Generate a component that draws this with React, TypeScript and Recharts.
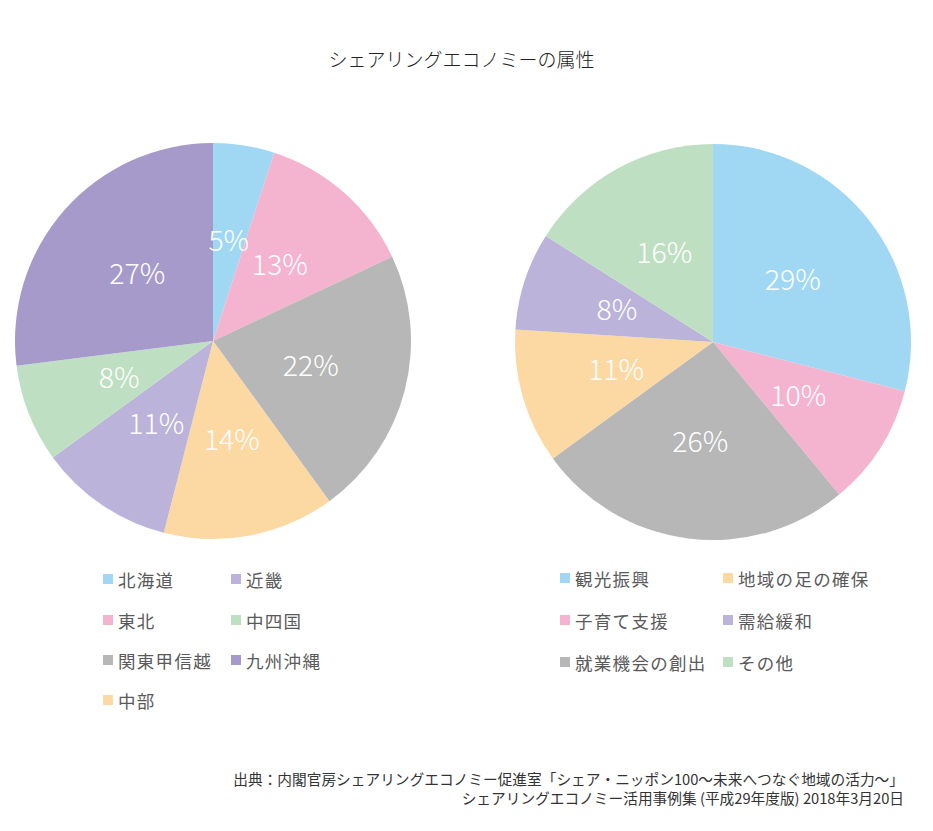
import React from "react";
import { PieChart, Pie, Cell } from "recharts";

const regionNames = ["北海道", "東北", "関東甲信越", "中部", "近畿", "中四国", "九州沖縄"];
const regionValues = [5, 13, 22, 14, 11, 8, 27];
const regionColors = ["#a0d8f4", "#f4b3cf", "#b6b7b6", "#fcd8a3", "#bbb3da", "#bfdfc3", "#a59aca"];

const purposeNames = ["観光振興", "子育て支援", "就業機会の創出", "地域の足の確保", "需給緩和", "その他"];
const purposeValues = [29, 10, 26, 11, 8, 16];
const purposeColors = ["#a0d8f4", "#f4b3cf", "#b6b7b6", "#fcd8a3", "#bbb3da", "#bfdfc3"];

const titleText = "シェアリングエコノミーの属性";
const sourceLine1 = "出典：内閣官房シェアリングエコノミー促進室「シェア・ニッポン100〜未来へつなぐ地域の活力〜」";
const sourceLine2 = "シェアリングエコノミー活用事例集 (平成29年度版) 2018年3月20日";

const regionData = regionNames.map((name, i) => ({ name, value: regionValues[i] }));
const purposeData = purposeNames.map((name, i) => ({ name, value: purposeValues[i] }));

const FONT = '"Noto Sans CJK JP", "Noto Sans", sans-serif';
const RAD = Math.PI / 180;

const renderLabel = (props: any) => {
  const { cx, cy, midAngle, outerRadius, value } = props;
  const r = outerRadius * 0.51;
  const x = cx + r * Math.cos(-midAngle * RAD);
  const y = cy + r * Math.sin(-midAngle * RAD) - 3;
  return (
    <text
      x={x}
      y={y}
      fill="#ffffff"
      textAnchor="middle"
      dominantBaseline="central"
      fontFamily={FONT}
      fontWeight={300}
      fontSize={28.5}
    >
      {`${value}%`}
    </text>
  );
};

type LegendProps = {
  names: string[];
  colors: string[];
  rowsPerCol: number;
  colX: number[];
  rowY: number[];
};

const LegendBlock = ({ names, colors, rowsPerCol, colX, rowY }: LegendProps) => (
  <>
    {names.map((name, i) => {
      const col = Math.floor(i / rowsPerCol);
      const row = i % rowsPerCol;
      const x = colX[col];
      const y = rowY[row];
      return (
        <div
          key={name}
          style={{
            position: "absolute",
            left: x,
            top: y - 12,
            height: 24,
            display: "flex",
            alignItems: "center",
            fontFamily: FONT,
            fontSize: 17.5,
            letterSpacing: 1.3,
            color: "#5a5a5a",
            whiteSpace: "nowrap",
          }}
        >
          <span
            style={{
              display: "inline-block",
              width: 10,
              height: 10,
              background: colors[i],
              marginRight: 5,
            }}
          />
          <span>{name}</span>
        </div>
      );
    })}
  </>
);

export default function App() {
  return (
    <div
      style={{
        position: "absolute",
        left: 0,
        top: 0,
        width: 933,
        height: 831,
        background: "#ffffff",
        fontFamily: FONT,
      }}
    >
      <div
        style={{
          position: "absolute",
          left: -5,
          top: 45,
          width: 933,
          textAlign: "center",
          fontSize: 19,
          fontWeight: 300,
          color: "#222222",
        }}
      >
        {titleText}
      </div>
      <div style={{ position: "absolute", left: 0, top: 0 }}>
        <PieChart width={933} height={560} margin={{ top: 0, right: 0, bottom: 0, left: 0 }}>
          <Pie
            data={regionData}
            dataKey="value"
            nameKey="name"
            cx={213}
            cy={341}
            outerRadius={198}
            startAngle={90}
            endAngle={-270}
            stroke="none"
            label={renderLabel}
            labelLine={false}
            isAnimationActive={false}
          >
            {regionData.map((d, i) => (
              <Cell key={d.name} fill={regionColors[i]} />
            ))}
          </Pie>
          <Pie
            data={purposeData}
            dataKey="value"
            nameKey="name"
            cx={713}
            cy={342}
            outerRadius={198}
            startAngle={90}
            endAngle={-270}
            stroke="none"
            label={renderLabel}
            labelLine={false}
            isAnimationActive={false}
          >
            {purposeData.map((d, i) => (
              <Cell key={d.name} fill={purposeColors[i]} />
            ))}
          </Pie>
        </PieChart>
      </div>
      <LegendBlock
        names={regionNames}
        colors={regionColors}
        rowsPerCol={4}
        colX={[103, 231]}
        rowY={[579, 620, 660, 700]}
      />
      <LegendBlock
        names={purposeNames}
        colors={purposeColors}
        rowsPerCol={3}
        colX={[560, 723]}
        rowY={[578, 620, 662]}
      />
      <div
        style={{
          position: "absolute",
          right: 29,
          top: 769,
          textAlign: "right",
          fontSize: 14.7,
          lineHeight: "19px",
          color: "#333333",
          whiteSpace: "nowrap",
        }}
      >
        <div>{sourceLine1}</div>
        <div>{sourceLine2}</div>
      </div>
    </div>
  );
}
